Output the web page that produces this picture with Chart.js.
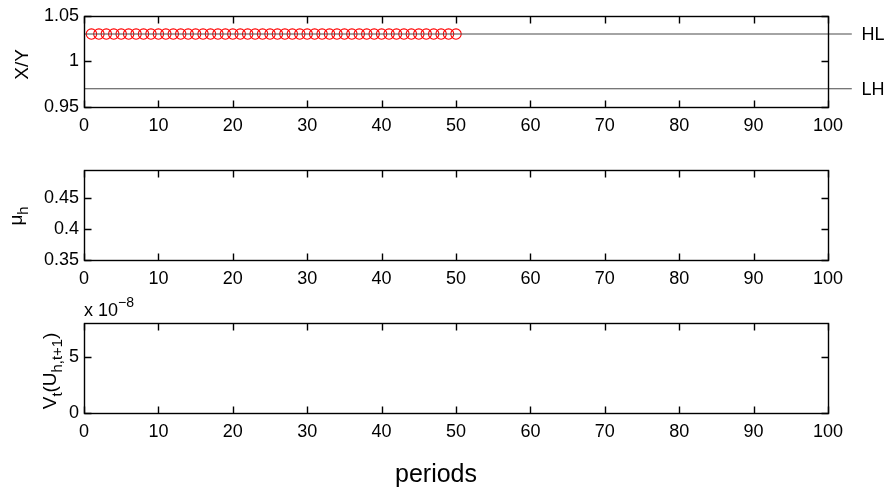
<!DOCTYPE html>
<html>
<head>
<meta charset="utf-8">
<script src="https://cdn.jsdelivr.net/npm/chart.js@4.4.0/dist/chart.umd.min.js"></script>
<style>
  html, body { margin: 0; padding: 0; background: #fff; }
  #wrap { position: relative; width: 890px; height: 487px; }
  .panel { position: absolute; left: 0; width: 890px; }
</style>
</head>
<body>
<div id="wrap">
  <div class="panel" style="top:0;height:150px"><canvas id="ratioChart"></canvas></div>
  <div class="panel" style="top:150px;height:140px"><canvas id="muChart"></canvas></div>
  <div class="panel" style="top:290px;height:197px"><canvas id="varChart"></canvas></div>
</div>
<script>
// shared x axis: simulation periods
const periodTicks = [0, 10, 20, 30, 40, 50, 60, 70, 80, 90, 100];

// X/Y ratio per period (first 50 periods simulated)
const ratioPeriods = [1, 2, 3, 4, 5, 6, 7, 8, 9, 10, 11, 12, 13, 14, 15, 16, 17, 18, 19, 20,
  21, 22, 23, 24, 25, 26, 27, 28, 29, 30, 31, 32, 33, 34, 35, 36, 37, 38, 39, 40,
  41, 42, 43, 44, 45, 46, 47, 48, 49, 50];
const ratioValues = [1.03, 1.03, 1.03, 1.03, 1.03, 1.03, 1.03, 1.03, 1.03, 1.03,
  1.03, 1.03, 1.03, 1.03, 1.03, 1.03, 1.03, 1.03, 1.03, 1.03,
  1.03, 1.03, 1.03, 1.03, 1.03, 1.03, 1.03, 1.03, 1.03, 1.03,
  1.03, 1.03, 1.03, 1.03, 1.03, 1.03, 1.03, 1.03, 1.03, 1.03,
  1.03, 1.03, 1.03, 1.03, 1.03, 1.03, 1.03, 1.03, 1.03, 1.03];
const ratioTicks = [0.95, 1, 1.05];
const ratioRange = [0.95, 1.05];

// band limits
const bandNames = ['HL', 'LH'];
const bandLevels = [1.03, 0.97];
const bandSpan = [0, 103.2];     // lines run a little past the right edge
const bandLabelAt = 104.5;

// mu_h panel
const muTicks = [0.35, 0.4, 0.45];
const muRange = [0.35, 0.495];

// variance panel, values in units of 1e-8
const varTicks = [0, 5];
const varRange = [0, 8];
const varExponent = '\u22128';

const FONT = '"Liberation Sans", Arial, Helvetica, sans-serif';
const TICK_FONT = 18;
const LABEL_FONT = 19;

// draw text made of normal / sub / sup runs, optionally rotated
function drawRich(ctx, parts, size, x, y, opts) {
  opts = opts || {};
  const small = size * 0.78;
  let w = 0;
  parts.forEach(p => {
    ctx.font = (p[1] ? small : size) + 'px ' + FONT;
    w += ctx.measureText(p[0]).width;
  });
  ctx.save();
  ctx.translate(x, y);
  if (opts.rotate) ctx.rotate(-Math.PI / 2);
  ctx.fillStyle = '#000';
  ctx.textBaseline = 'alphabetic';
  ctx.textAlign = 'left';
  let cx = opts.align === 'left' ? 0 : -w / 2;
  parts.forEach(p => {
    ctx.font = (p[1] ? small : size) + 'px ' + FONT;
    const dy = p[1] === 'sub' ? size * 0.32 : p[1] === 'sup' ? -size * 0.5 : 0;
    ctx.fillText(p[0], cx, dy);
    cx += ctx.measureText(p[0]).width;
  });
  ctx.restore();
}

// boxed axes with inward ticks on all four sides, plus panel labels
function boxAxes(drawLabels) {
  return {
    id: 'boxAxes',
    afterDraw(chart) {
      const { ctx, chartArea: a, scales: { x, y } } = chart;
      const L = Math.round(a.left) + 0.5, R = Math.round(a.right) + 0.5;
      const T = Math.round(a.top) + 0.5, B = Math.round(a.bottom) + 0.5;
      const tick = 7;
      ctx.save();
      ctx.strokeStyle = '#000';
      ctx.lineWidth = 1.4;
      ctx.beginPath();
      x.ticks.forEach(t => {
        const px = Math.round(x.getPixelForValue(t.value)) + 0.5;
        ctx.moveTo(px, B); ctx.lineTo(px, B - tick);
        ctx.moveTo(px, T); ctx.lineTo(px, T + tick);
      });
      y.ticks.forEach(t => {
        const py = Math.round(y.getPixelForValue(t.value)) + 0.5;
        ctx.moveTo(L, py); ctx.lineTo(L + tick, py);
        ctx.moveTo(R, py); ctx.lineTo(R - tick, py);
      });
      ctx.stroke();
      ctx.strokeRect(L, T, R - L, B - T);
      ctx.restore();
      drawLabels(chart);
    }
  };
}

function panelOptions(p) {
  return {
    responsive: true,
    maintainAspectRatio: false,
    animation: false,
    events: [],
    layout: { padding: { top: p.top, right: 62, left: 0, bottom: 0 } },
    plugins: {
      legend: { display: false },
      tooltip: { enabled: false }
    },
    scales: {
      x: {
        type: 'linear',
        min: 0,
        max: 100,
        afterBuildTicks: s => { s.ticks = periodTicks.map(v => ({ value: v })); },
        afterFit: s => { s.height = p.xHeight; },
        grid: { display: false, drawTicks: false },
        border: { display: false },
        ticks: { color: '#000', font: { family: FONT, size: TICK_FONT }, padding: 8, maxRotation: 0, autoSkip: false }
      },
      y: {
        type: 'linear',
        min: p.range[0],
        max: p.range[1],
        afterBuildTicks: s => { s.ticks = p.ticks.map(v => ({ value: v })); },
        afterFit: s => { s.width = 84; },
        grid: { display: false, drawTicks: false },
        border: { display: false },
        ticks: { color: '#000', font: { family: FONT, size: TICK_FONT }, padding: 5, callback: v => String(v) }
      }
    }
  };
}

// top panel: X/Y with HL / LH bands
new Chart(document.getElementById('ratioChart'), {
  type: 'scatter',
  data: {
    datasets: [
      ...bandLevels.map(level => ({
        data: bandSpan.map(xv => ({ x: xv, y: level })),
        showLine: true,
        borderColor: '#4a4a4a',
        borderWidth: 1.1,
        pointRadius: 0,
        clip: false
      })),
      {
        data: ratioPeriods.map((p, i) => ({ x: p, y: ratioValues[i] })),
        showLine: false,
        pointStyle: 'circle',
        pointRadius: 5.2,
        borderColor: '#ff0000',
        backgroundColor: 'rgba(0,0,0,0)',
        borderWidth: 1.1
      }
    ]
  },
  options: panelOptions({ top: 15, xHeight: 43, range: ratioRange, ticks: ratioTicks }),
  plugins: [boxAxes(chart => {
    const { ctx, chartArea: a, scales: { x, y } } = chart;
    drawRich(ctx, [['X/Y']], LABEL_FONT, 28, (a.top + a.bottom) / 2 + 3, { rotate: true });
    ctx.save();
    ctx.font = TICK_FONT + 'px ' + FONT;
    ctx.fillStyle = '#000';
    ctx.textBaseline = 'middle';
    bandNames.forEach((n, i) => ctx.fillText(n, x.getPixelForValue(bandLabelAt), y.getPixelForValue(bandLevels[i]) + 1));
    ctx.restore();
  })]
});

// middle panel: mu_h
new Chart(document.getElementById('muChart'), {
  type: 'scatter',
  data: { datasets: [] },
  options: panelOptions({ top: 20, xHeight: 30, range: muRange, ticks: muTicks }),
  plugins: [boxAxes(chart => {
    const a = chart.chartArea;
    drawRich(chart.ctx, [['\u03bc'], ['h', 'sub']], LABEL_FONT, 22, (a.top + a.bottom) / 2 + 1, { rotate: true });
  })]
});

// bottom panel: conditional variance, scaled by 1e-8
new Chart(document.getElementById('varChart'), {
  type: 'scatter',
  data: { datasets: [] },
  options: panelOptions({ top: 33, xHeight: 74, range: varRange, ticks: varTicks }),
  plugins: [boxAxes(chart => {
    const { ctx, chartArea: a } = chart;
    drawRich(ctx, [['V'], ['t', 'sub'], ['(U'], ['h,t+1', 'sub'], [')']], LABEL_FONT, 56,
      (a.top + a.bottom) / 2 + 3, { rotate: true });
    drawRich(ctx, [['x 10'], [varExponent, 'sup']], 18, a.left, a.top - 7, { align: 'left' });
    drawRich(ctx, [['periods']], 25, 436, 192);
  })]
});
</script>
</body>
</html>
